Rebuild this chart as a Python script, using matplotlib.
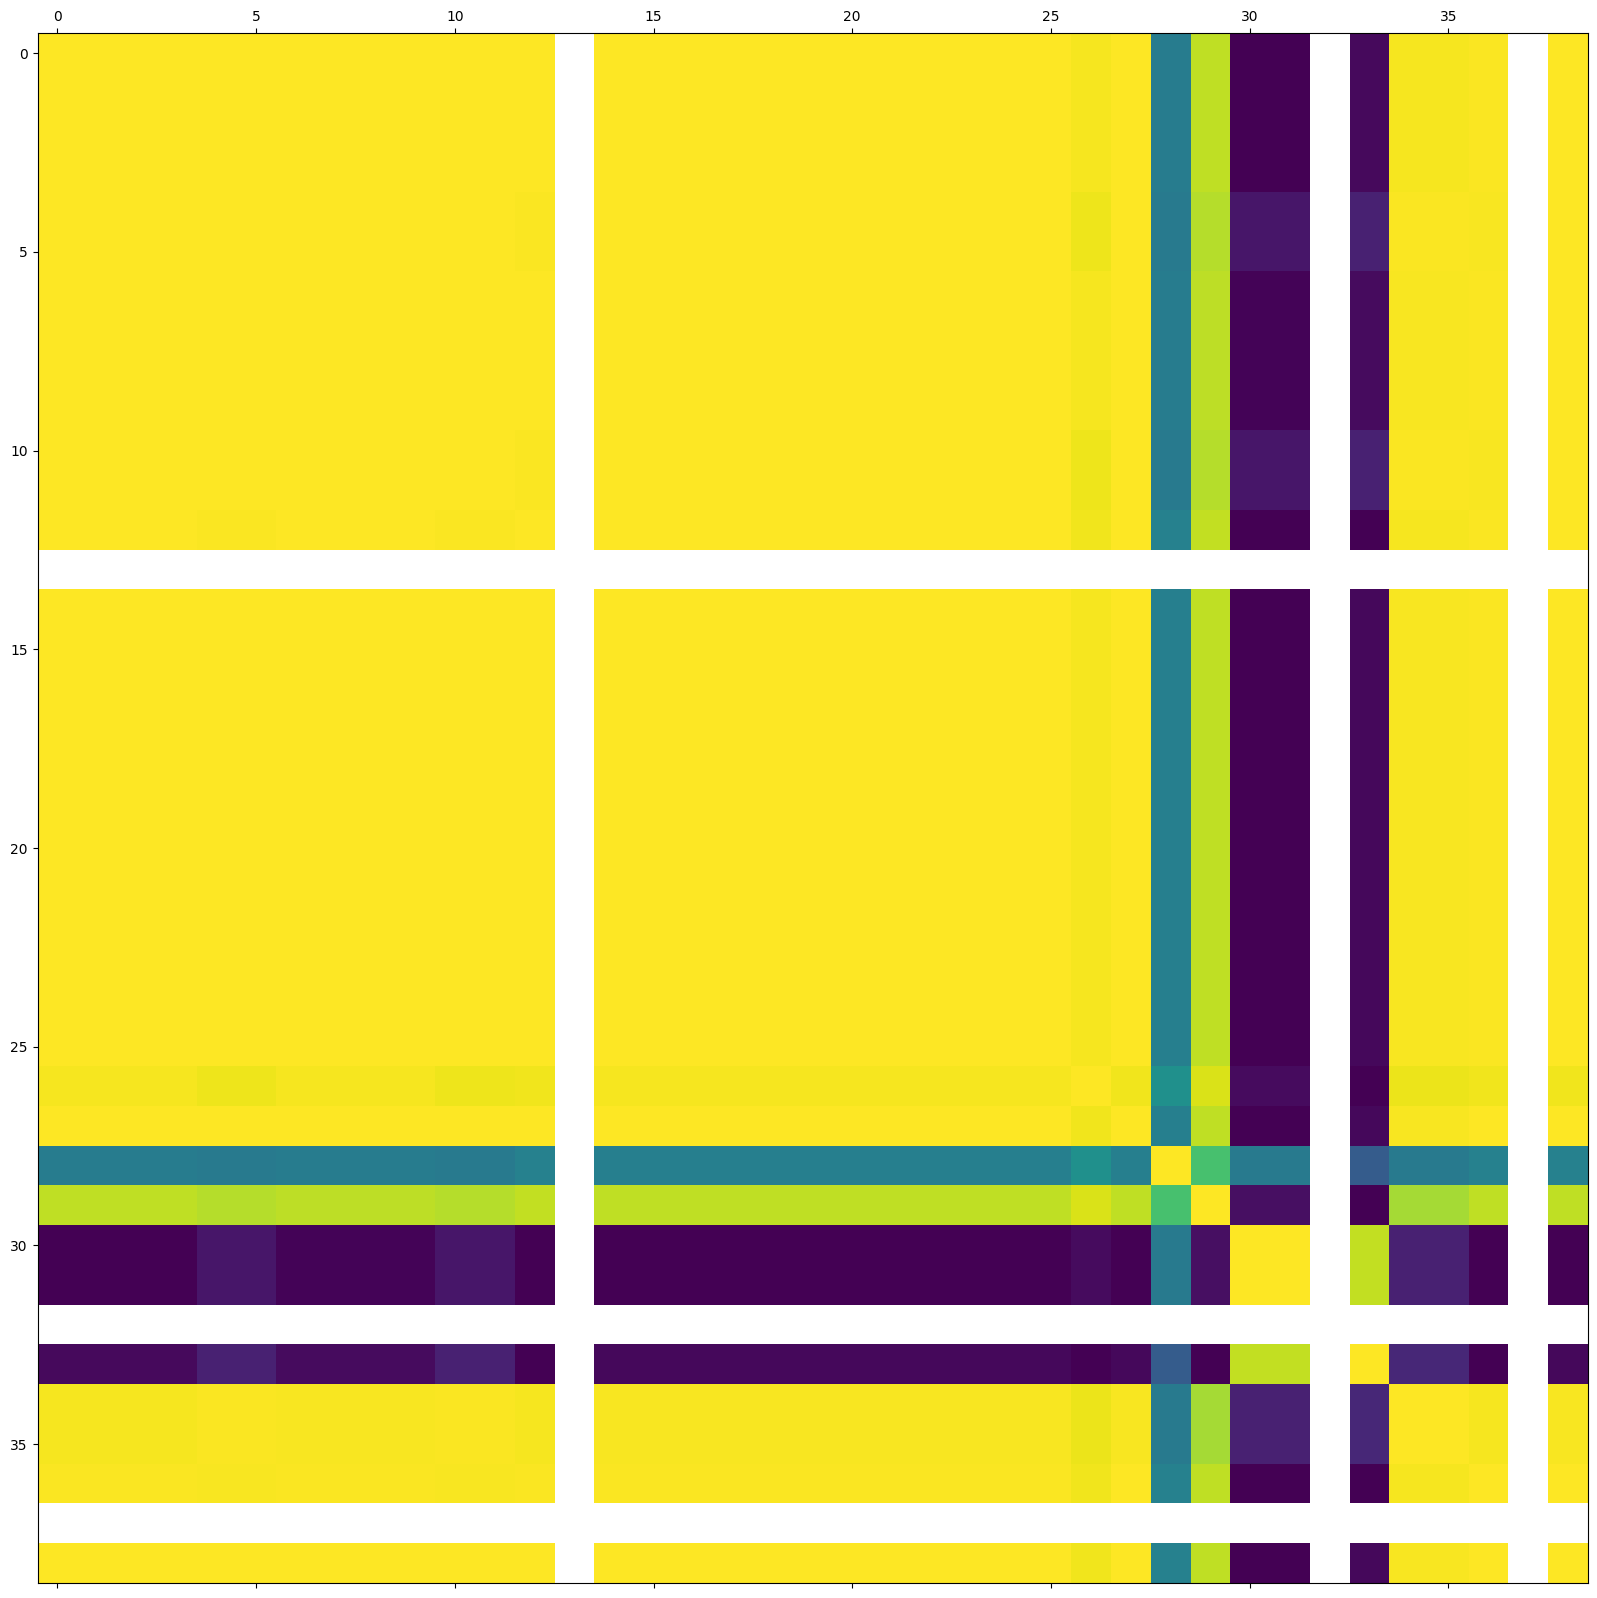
import numpy as np
import matplotlib
matplotlib.use("Agg")
import matplotlib.pyplot as plt

# which block each of the 39 variables belongs to (-1 = constant column, all NaN)
var_group = [0, 0, 0, 0, 1, 1, 2, 2, 3, 3, 4, 4, 5, -1,
             6, 6, 6, 6, 6, 6, 6, 6, 6, 6, 6, 6, 7, 8,
             9, 10, 11, 11, -1, 12, 13, 13, 14, -1, 15]

# block-to-block correlation (upper triangle, read row by row)
group_corr = [
    [1.00, 0.997, 1.00, 1.00, 0.997, 0.997, 0.999, 0.985, 0.999, 0.42, 0.905, 0.00, 0.025, 0.988, 0.996, 0.999],
    [1.00, 0.997, 0.997, 0.999, 0.995, 0.997, 0.975, 0.997, 0.41, 0.89, 0.06, 0.09, 0.994, 0.99, 0.997],
    [1.00, 0.999, 0.997, 0.997, 0.999, 0.985, 0.999, 0.42, 0.90, 0.01, 0.03, 0.99, 0.996, 0.999],
    [1.00, 0.997, 0.997, 0.999, 0.985, 0.999, 0.42, 0.90, 0.01, 0.03, 0.99, 0.996, 0.999],
    [1.00, 0.995, 0.997, 0.975, 0.997, 0.41, 0.89, 0.06, 0.09, 0.994, 0.99, 0.997],
    [1.00, 0.997, 0.98, 0.997, 0.44, 0.91, 0.00, 0.00, 0.986, 0.996, 0.997],
    [1.00, 0.985, 0.999, 0.43, 0.905, 0.00, 0.02, 0.99, 0.996, 0.999],
    [1.00, 0.98, 0.50, 0.945, 0.03, 0.00, 0.972, 0.98, 0.98],
    [1.00, 0.43, 0.905, 0.00, 0.02, 0.99, 0.997, 0.999],
    [1.00, 0.71, 0.41, 0.29, 0.41, 0.44, 0.44],
    [1.00, 0.04, 0.00, 0.865, 0.905, 0.905],
    [1.00, 0.91, 0.09, 0.00, 0.00],
    [1.00, 0.11, 0.00, 0.02],
    [1.00, 0.986, 0.99],
    [1.00, 0.997],
    [1.00],
]

# build the full symmetric block table
n_groups = len(group_corr)
table = np.zeros((n_groups, n_groups))
for i, row in enumerate(group_corr):
    table[i, i:] = row
    table[i:, i] = row

# expand to the variable-level matrix
g = np.array(var_group)
idx = np.where(g < 0, 0, g)
corr = table[np.ix_(idx, idx)]
corr[g < 0, :] = np.nan
corr[:, g < 0] = np.nan

fig = plt.figure(figsize=(15.97, 15.98), dpi=100)
ax = fig.add_axes([37.5 / 1597, (1598 - 1583.3) / 1598, 1550 / 1597, 1550 / 1598])
ax.matshow(corr, cmap="viridis")

plt.savefig("out.png", dpi=100)
